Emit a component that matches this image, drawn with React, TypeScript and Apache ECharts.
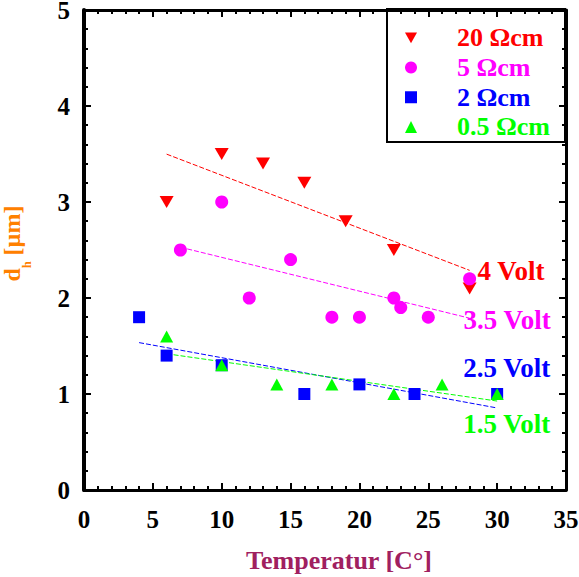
import { useEffect, useRef } from "react";
import * as echarts from "echarts";

// Resistivity groups, their bias voltages and colours
const groupNames = ["20 Ωcm", "5 Ωcm", "2 Ωcm", "0.5 Ωcm"];
const voltNames = ["4 Volt", "3.5 Volt", "2.5 Volt", "1.5 Volt"];
const groupColors = ["#ff0000", "#ff00ff", "#0000ff", "#00ff00"];

// Measured d_h [µm] versus temperature [°C]
const temp20 = [6, 10, 13, 16, 19, 22.5, 28];
const dh20 = [3.0, 3.5, 3.4, 3.2, 2.8, 2.5, 2.1];
const temp5 = [7, 10, 12, 15, 18, 20, 22.5, 23, 25, 28];
const dh5 = [2.5, 3.0, 2.0, 2.4, 1.8, 1.8, 2.0, 1.9, 1.8, 2.2];
const temp2 = [4, 6, 10, 16, 20, 24, 30];
const dh2 = [1.8, 1.4, 1.3, 1.0, 1.1, 1.0, 1.0];
const temp05 = [6, 10, 14, 18, 22.5, 26, 30];
const dh05 = [1.6, 1.3, 1.1, 1.1, 1.0, 1.1, 1.0];

// Axis ranges
const xRange = [0, 35];
const xStep = 5;
const yRange = [0, 5];
const yStep = 1;

const FONT = "'Liberation Serif', 'Times New Roman', serif";

const groups = [
  { xs: temp20, ys: dh20 },
  { xs: temp5, ys: dh5 },
  { xs: temp2, ys: dh2 },
  { xs: temp05, ys: dh05 },
];

const symbols = [
  { symbol: "triangle", symbolRotate: 180, symbolSize: [14, 12] },
  { symbol: "circle", symbolRotate: 0, symbolSize: 13 },
  { symbol: "rect", symbolRotate: 0, symbolSize: 12 },
  { symbol: "triangle", symbolRotate: 0, symbolSize: [13, 12] },
];
const legendIcons = ["path://M0,0L10,0L5,9Z", "circle", "rect", "triangle"];
// Where each voltage label sits relative to the end of its fit line
const labelOffsets = [
  [8, 1],
  [-6, 2],
  [-34, -40],
  [-34, 23],
];

// Least-squares straight line over the measured range
function linearFit(xs: number[], ys: number[]) {
  const n = xs.length;
  const mx = xs.reduce((a, b) => a + b, 0) / n;
  const my = ys.reduce((a, b) => a + b, 0) / n;
  let sxy = 0;
  let sxx = 0;
  for (let i = 0; i < n; i++) {
    sxy += (xs[i] - mx) * (ys[i] - my);
    sxx += (xs[i] - mx) * (xs[i] - mx);
  }
  const slope = sxy / sxx;
  const x0 = Math.min(...xs);
  const x1 = Math.max(...xs);
  return [
    [x0, my + slope * (x0 - mx)],
    [x1, my + slope * (x1 - mx)],
  ];
}

const fits = groups.map((g) => linearFit(g.xs, g.ys));

function valueAxis(
  position: string,
  range: number[],
  step: number,
  showLabels: boolean,
  lineWidth: number,
  labelMargin: number,
  labelLineHeight: number
) {
  return {
    type: "value",
    position,
    min: range[0],
    max: range[1],
    interval: step,
    axisLine: { show: true, onZero: false, lineStyle: { color: "#000", width: lineWidth } },
    axisTick: { show: true, inside: true, length: 7, lineStyle: { color: "#000", width: 2 } },
    minorTick: { show: true, splitNumber: 5, length: 4, lineStyle: { color: "#000", width: 2 } },
    splitLine: { show: false },
    minorSplitLine: { show: false },
    axisLabel: {
      show: showLabels,
      color: "#000",
      fontSize: 25,
      lineHeight: labelLineHeight,
      fontWeight: "bold",
      fontFamily: FONT,
      margin: labelMargin,
    },
  };
}

export default function App() {
  const ref = useRef<HTMLDivElement>(null);

  useEffect(() => {
    if (!ref.current) return;
    const chart = echarts.init(ref.current, null, { renderer: "svg" });

    const fitSeries = fits.map((f, i) => ({
      type: "line",
      name: voltNames[i],
      data: f,
      showSymbol: false,
      symbol: "none",
      silent: true,
      z: 2,
      lineStyle: { color: groupColors[i], width: 1, type: [5, 2] },
    }));

    const scatterSeries = groups.map((g, i) => ({
      type: "scatter",
      name: groupNames[i],
      data: g.xs.map((x, j) => [x, g.ys[j]]),
      symbol: symbols[i].symbol,
      symbolRotate: symbols[i].symbolRotate,
      symbolSize: symbols[i].symbolSize,
      itemStyle: { color: groupColors[i], opacity: 1 },
      z: 3,
    }));

    chart.setOption({
      animation: false,
      backgroundColor: "#fff",
      textStyle: { fontFamily: FONT },
      grid: { left: 84, right: 13, top: 10, bottom: 87, outerBoundsMode: "none" },
      xAxis: [
        valueAxis("bottom", xRange, xStep, true, 3, 19, 20),
        valueAxis("top", xRange, xStep, false, 3, 8, 20),
      ],
      yAxis: [
        valueAxis("left", yRange, yStep, true, 4, 14, 16),
        valueAxis("right", yRange, yStep, false, 3, 8, 16),
      ],
      legend: {
        orient: "vertical",
        left: 405,
        top: 23,
        padding: 0,
        itemGap: 0,
        itemWidth: 12,
        itemHeight: 12,
        selectedMode: false,
        textStyle: {
          fontSize: 26,
          fontWeight: "bold",
          fontFamily: FONT,
          lineHeight: 29.7,
          padding: [0, 0, 0, 35],
        },
        data: groupNames.map((name, i) => ({
          name,
          icon: legendIcons[i],
          itemStyle: { color: groupColors[i] },
          textStyle: { color: groupColors[i] },
        })),
      },
      series: [...fitSeries, ...scatterSeries],
    });

    // Voltage labels placed beside the end of each fit line
    const voltTexts = fits.map((f, i) => {
      const p = chart.convertToPixel({ seriesIndex: i }, f[1]) as number[];
      return {
        type: "text",
        id: "volt" + i,
        x: p[0] + labelOffsets[i][0],
        y: p[1] + labelOffsets[i][1],
        z: 10,
        style: {
          text: voltNames[i],
          fill: groupColors[i],
          fontSize: 27,
          fontWeight: "bold",
          fontFamily: FONT,
          align: "left",
          verticalAlign: "middle",
        },
      };
    });

    chart.setOption({
      graphic: [
        {
          type: "rect",
          id: "legendBox",
          shape: { x: 387, y: 9, width: 178, height: 133 },
          style: { fill: "none", stroke: "#000", lineWidth: 2 },
          z: 1,
          silent: true,
        },
        {
          type: "text",
          id: "xTitle",
          x: 339,
          y: 560.5,
          style: {
            text: "Temperatur [C°]",
            fill: "#a0205f",
            fontSize: 26,
            fontWeight: "bold",
            fontFamily: FONT,
            align: "center",
            verticalAlign: "middle",
          },
        },
        {
          type: "text",
          id: "yTitle",
          x: 21,
          y: 243.5,
          rotation: Math.PI / 2,
          style: {
            text: "{a|d}{b|h}{a| [µm]}",
            align: "center",
            verticalAlign: "middle",
            rich: {
              a: {
                fill: "#ff8000",
                fontSize: 24,
                fontWeight: "bold",
                fontFamily: FONT,
                lineHeight: 24,
                padding: [0, 0, 9, 0],
                verticalAlign: "bottom",
              },
              b: {
                fill: "#ff8000",
                fontSize: 12,
                fontWeight: "bold",
                fontFamily: FONT,
                lineHeight: 12,
                verticalAlign: "bottom",
              },
            },
          },
        },
        ...voltTexts,
      ],
    });

    return () => chart.dispose();
  }, []);

  return (
    <div
      ref={ref}
      style={{ position: "fixed", left: 0, top: 0, width: 579, height: 577, background: "#fff" }}
    />
  );
}
